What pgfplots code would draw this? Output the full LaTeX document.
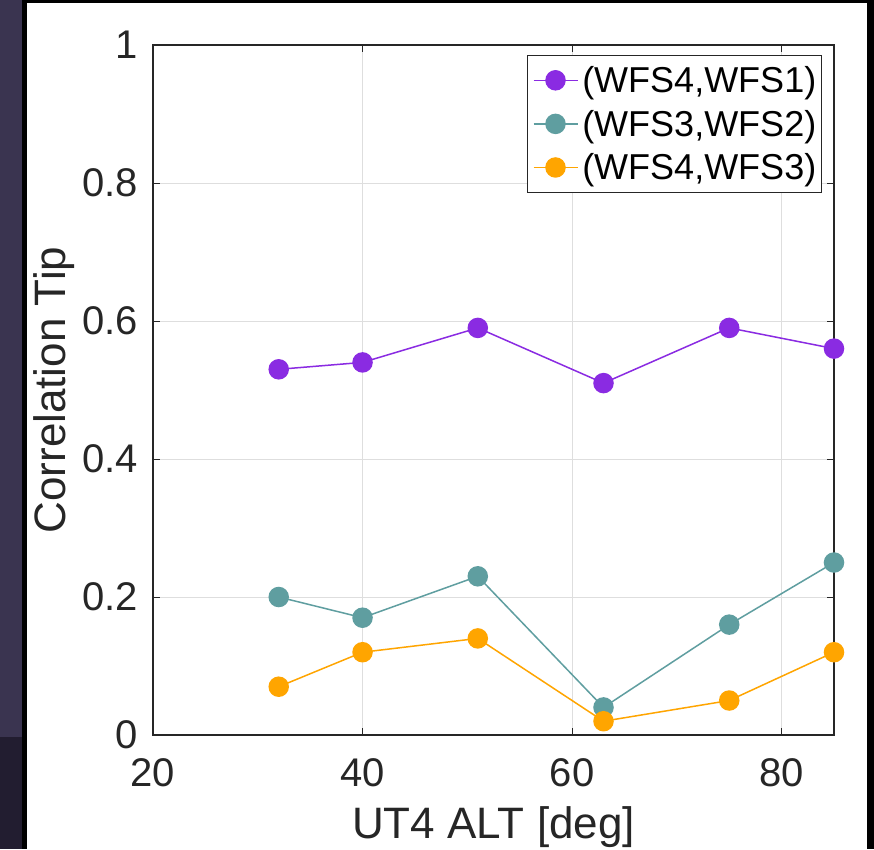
\documentclass[border=0pt]{standalone}
\usepackage{fontspec}
\setmainfont{Liberation Sans}
\usepackage{pgfplots}
\pgfplotsset{compat=1.18}
\definecolor{c1}{RGB}{138,43,226}
\definecolor{c2}{RGB}{95,158,160}
\definecolor{c3}{RGB}{255,165,0}
\definecolor{bgtop}{RGB}{58,52,80}
\definecolor{bgbot}{RGB}{34,29,48}
\definecolor{txt}{RGB}{38,38,38}
\begin{document}
\begin{tikzpicture}[x=1pt,y=1pt]
\useasboundingbox (0,0) rectangle (874,-849);
\fill[black] (0,0) rectangle (874,-849);
\fill[bgtop] (0,0) rectangle (22,-737);
\fill[bgbot] (0,-737) rectangle (22,-849);
\fill[white] (27,-3) rectangle (867,-849);
\begin{axis}[
 at={(153pt,-735pt)}, anchor=south west,
 scale only axis, width=681pt, height=690pt,
 xmin=20, xmax=85, ymin=0, ymax=1,
 xtick={20,40,60,80}, ytick={0,0.2,0.4,0.6,0.8,1},
 tick align=inside, major tick length=7pt, tick style={txt, line width=1pt},
 axis line style={txt, line width=1.3pt},
 grid=major, major grid style={black!13, line width=1pt},
 /pgf/number format/assume math mode=true,
 ticklabel style={font=\fontsize{40}{48}\selectfont, text=txt},
 yticklabel style={inner sep=0pt, xshift=-15pt},
 xticklabel style={inner sep=0pt, yshift=-23pt},
 xlabel={UT4 ALT [deg]}, ylabel={Correlation Tip},
 label style={font=\fontsize{44}{52}\selectfont, text=txt, inner sep=0pt},
 xlabel style={at={(axis description cs:0.5,-0.1029)}, anchor=north},
 ylabel style={at={(axis description cs:-0.1145,0.5)}, anchor=south},
 legend style={at={(axis description cs:0.982,0.9855)}, anchor=north east,
   font=\fontsize{36}{43}\selectfont, draw=txt, line width=1pt,
   inner xsep=5pt, inner ysep=11pt, row sep=16pt, column sep=4pt,
   nodes={inner sep=0pt, text=black}},
 legend cell align=left,
 legend image code/.code={\draw[mark repeat=2, mark phase=2,#1] plot coordinates {(0pt,0pt) (22pt,0pt) (44pt,0pt)};},
 clip=false,
]
\addplot[c1, line width=1.5pt, mark=*, mark size=9.5pt, mark options={fill=c1, draw=c1}] coordinates {(32,0.53) (40,0.54) (51,0.59) (63,0.51) (75,0.59) (85,0.56)};
\addlegendentry{(WFS4,WFS1)}
\addplot[c2, line width=1.5pt, mark=*, mark size=9.5pt, mark options={fill=c2, draw=c2}] coordinates {(32,0.20) (40,0.17) (51,0.23) (63,0.04) (75,0.16) (85,0.25)};
\addlegendentry{(WFS3,WFS2)}
\addplot[c3, line width=1.5pt, mark=*, mark size=9.5pt, mark options={fill=c3, draw=c3}] coordinates {(32,0.07) (40,0.12) (51,0.14) (63,0.02) (75,0.05) (85,0.12)};
\addlegendentry{(WFS4,WFS3)}
\end{axis}
\end{tikzpicture}
\end{document}
